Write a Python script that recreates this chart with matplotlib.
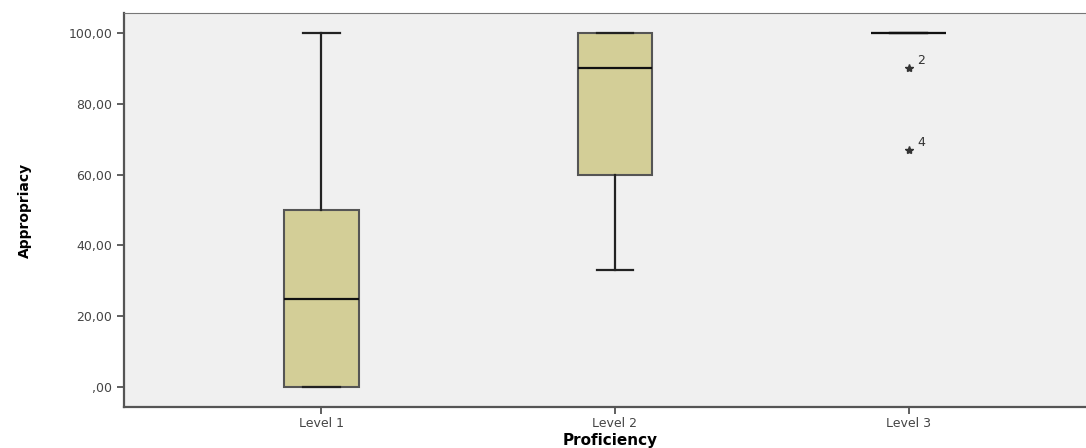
import matplotlib
matplotlib.use("Agg")
import matplotlib.pyplot as plt
from matplotlib.ticker import FuncFormatter

categories = ["Level 1", "Level 2", "Level 3"]
whislo = [0, 33, 100]
q1 = [0, 60, 100]
med = [25, 90, 100]
q3 = [50, 100, 100]
whishi = [100, 100, 100]
outlier_vals = [[], [], [90, 67]]
outlier_ids = [[], [], ["2", "4"]]
yticks = [0, 20, 40, 60, 80, 100]

fig = plt.figure(figsize=(10.86, 4.48), dpi=100)
ax = fig.add_axes([124/1086, 41/448, 1 - 124/1086 + 0.01, 394/448])
ax.set_facecolor("#F0F0F0")

stats = []
for i, c in enumerate(categories):
    stats.append(dict(label=c, whislo=whislo[i], q1=q1[i], med=med[i],
                      q3=q3[i], whishi=whishi[i], fliers=[]))
pos = [1, 2, 3]
ax.bxp(stats, positions=pos, widths=0.255, patch_artist=True,
       showfliers=False,
       boxprops=dict(facecolor="#D3CE97", edgecolor="#555555", linewidth=1.5),
       medianprops=dict(color="#111111", linewidth=1.6),
       whiskerprops=dict(color="#222222", linewidth=1.6),
       capprops=dict(color="#222222", linewidth=1.6), capwidths=0.125)

for i, (vals, ids) in enumerate(zip(outlier_vals, outlier_ids)):
    for v, lab in zip(vals, ids):
        ax.plot(pos[i], v, marker="*", color="#333333", markersize=6, linestyle="none")
        ax.annotate(lab, (pos[i], v), xytext=(6, 3), textcoords="offset points",
                    fontsize=9, color="#333333")

ax.set_xlim(0.329, 3.64)
ax.set_ylim(-5.6, 105.6)
ax.set_yticks(yticks)
ax.yaxis.set_major_formatter(FuncFormatter(
    lambda v, p: ",00" if v == 0 else f"{int(v)},00"))
ax.set_xticks(pos)
ax.set_xticklabels(categories)
ax.tick_params(axis="both", labelsize=9, labelcolor="#444444", color="#444444",
               length=5, width=1.2)
ax.tick_params(axis="x", pad=2)
for s in ["left", "bottom"]:
    ax.spines[s].set_color("#555555")
    ax.spines[s].set_linewidth(1.6)
ax.spines["top"].set_color("#777777")
ax.spines["right"].set_visible(False)

ax.set_ylabel("Appropriacy", fontsize=10, fontweight="bold", labelpad=26)
ax.set_xlabel("Proficiency", fontsize=11, fontweight="bold", va="center")
ax.xaxis.set_label_coords(0.50, -33/394)

fig.savefig("out.png", dpi=100)
